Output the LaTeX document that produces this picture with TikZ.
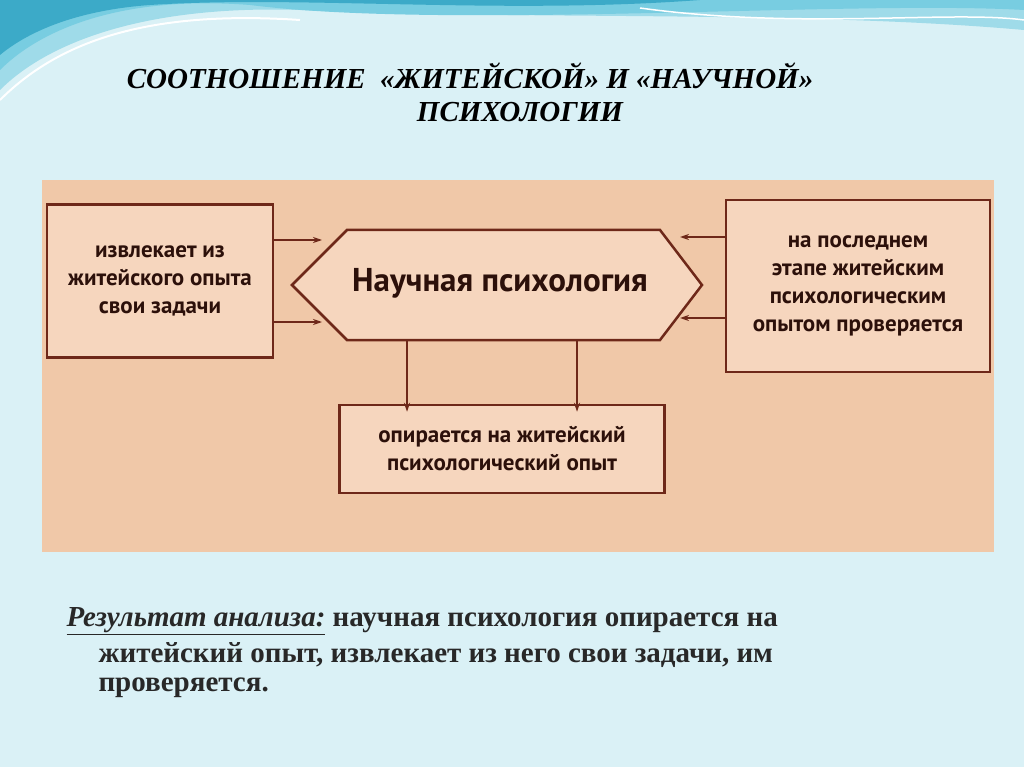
\documentclass[tikz,border=0pt]{standalone}
\usepackage{fontspec}
\setmainfont{Liberation Serif}
\newfontfamily\boxfont{PT Sans}
\usetikzlibrary{arrows.meta}
\definecolor{bg}{RGB}{218,241,246}
\definecolor{panel}{RGB}{240,200,168}
\definecolor{boxf}{RGB}{246,214,190}
\definecolor{brd}{RGB}{110,40,25}
\definecolor{wave1}{RGB}{120,205,225}
\definecolor{wave2}{RGB}{60,170,200}
\definecolor{txt}{RGB}{40,40,40}
\tikzset{
 bx/.style={draw=brd,line width=2.5pt,fill=boxf},
 bt/.style={font=\boxfont\bfseries\fontsize{23}{28}\selectfont,text=brd!40!black,align=center},
 ar/.style={draw=brd,line width=1.2pt,-{Stealth[length=9pt,width=6pt]}},
 tt/.style={font=\bfseries\itshape\fontsize{29}{34}\selectfont,text=black},
 ct/.style={font=\bfseries\fontsize{29}{34}\selectfont,text=txt,anchor=west}
}
\begin{document}
\begin{tikzpicture}[x=1pt,y=-1pt]
\useasboundingbox (0,0) rectangle (1024,767);
\fill[bg] (0,0) rectangle (1024,767);
% top waves
\fill[wave1!60!bg] (0,0) -- (1024,0) -- (1024,30) .. controls (800,10) and (500,20) .. (300,10) .. controls (150,5) and (50,40) .. (0,90) -- cycle;
\fill[wave1] (0,0) -- (1024,0) -- (1024,10) .. controls (850,0) and (450,30) .. (250,5) .. controls (120,-5) and (40,30) .. (0,70) -- cycle;
\fill[wave2] (0,0) -- (700,0) .. controls (500,15) and (300,-5) .. (150,5) .. controls (80,10) and (30,30) .. (0,55) -- cycle;
\draw[white,line width=2pt] (0,100) .. controls (60,40) and (150,10) .. (300,20);
\draw[white,line width=1.5pt] (640,8) .. controls (800,30) and (950,10) .. (1024,20);
% title
\node[tt] (t1) at (470,76) {СООТНОШЕНИЕ \ «ЖИТЕЙСКОЙ» И «НАУЧНОЙ»};
\node[tt] (t2) at (520,112) {ПСИХОЛОГИИ};
% panel
\fill[panel] (42,180) rectangle (994,552);
\node[bx,bt,minimum width=226pt,minimum height=153pt] (L) at (160,281) {извлекает из\\житейского опыта\\свои задачи};
\node[bx,bt,minimum width=264pt,minimum height=172pt] (R) at (858,286) {на последнем\\этапе житейским\\психологическим\\опытом проверяется};
\node[bx,bt,minimum width=325pt,minimum height=88pt] (B) at (502,449) {опирается на житейский\\психологический опыт};
\draw[bx] (292,285) -- (347,230) -- (660,230) -- (702,285) -- (660,340) -- (347,340) -- cycle;
\node[bt,font=\boxfont\bfseries\fontsize{33}{38}\selectfont] (H) at (500,283) {Научная психология};
\coordinate (hl1) at (322,240); \coordinate (hl2) at (322,322);
\coordinate (hr1) at (680,237); \coordinate (hr2) at (680,318);
\draw[ar] (L.east|-hl1) -- (hl1);
\draw[ar] (L.east|-hl2) -- (hl2);
\draw[ar] (R.west|-hr1) -- (hr1);
\draw[ar] (R.west|-hr2) -- (hr2);
\coordinate (d1) at (407,340); \coordinate (d2) at (577,340);
\draw[ar] (d1) -- ([yshift=-8pt]d1|-B.north);
\draw[ar] (d2) -- ([yshift=-8pt]d2|-B.north);
% conclusion
\node[ct] (c0) at (63,621) {\underline{\textit{Результат анализа:}} научная психология опирается на};
\node[ct] (c1) at (95,655) {житейский опыт, извлекает из него свои задачи, им};
\node[ct] (c2) at (95,688) {проверяется.};
\end{tikzpicture}
\end{document}
